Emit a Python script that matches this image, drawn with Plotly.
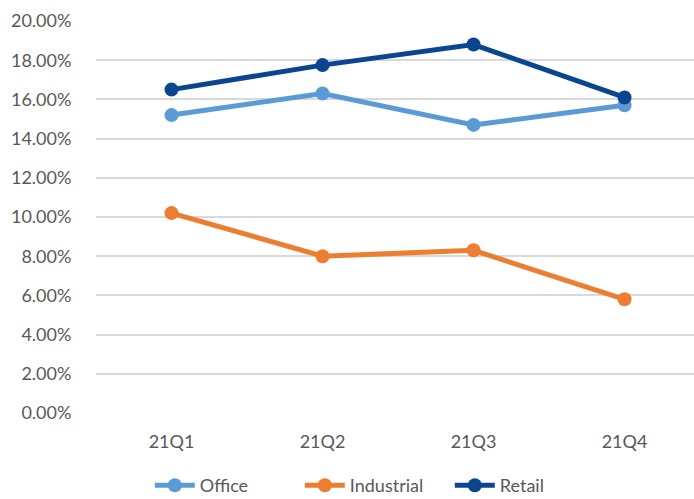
import plotly.graph_objects as go

quarters = ["21Q1", "21Q2", "21Q3", "21Q4"]
office = [0.152, 0.163, 0.147, 0.157]
industrial = [0.102, 0.080, 0.083, 0.058]
retail = [0.165, 0.1775, 0.188, 0.161]

series = [
    ("Office", office, "#5B9BD5"),
    ("Industrial", industrial, "#ED7D31"),
    ("Retail", retail, "#0A4690"),
]

fig = go.Figure()
for name, vals, color in series:
    fig.add_trace(go.Scatter(
        x=quarters, y=vals, name=name, mode="lines+markers",
        line=dict(color=color, width=5),
        marker=dict(color=color, size=14),
    ))

font_family = "Lato, 'Open Sans', sans-serif"
fig.update_layout(
    width=694, height=499,
    margin=dict(l=96, r=0, t=21, b=85.5, autoexpand=False),
    paper_bgcolor="white", plot_bgcolor="white",
    font=dict(family=font_family, size=18, color="#595959"),
    showlegend=True,
    legend=dict(orientation="h", x=0.09, xanchor="left", y=-0.185, yanchor="middle",
                font=dict(size=18, color="#595959"), itemwidth=40, traceorder="normal",
                entrywidth=95),
    xaxis=dict(range=[-0.5, 3.46], showgrid=False, zeroline=False, showline=False,
               ticks="outside", ticklen=12, tickcolor="white", fixedrange=True),
    yaxis=dict(range=[0, 0.2], dtick=0.02, tickformat=".2%", showgrid=True,
               gridcolor="#D9D9D9", gridwidth=1.5, zeroline=False, showline=False,
               ticks="outside", ticklen=20, tickcolor="white"),
)

fig.write_html("out.html")
